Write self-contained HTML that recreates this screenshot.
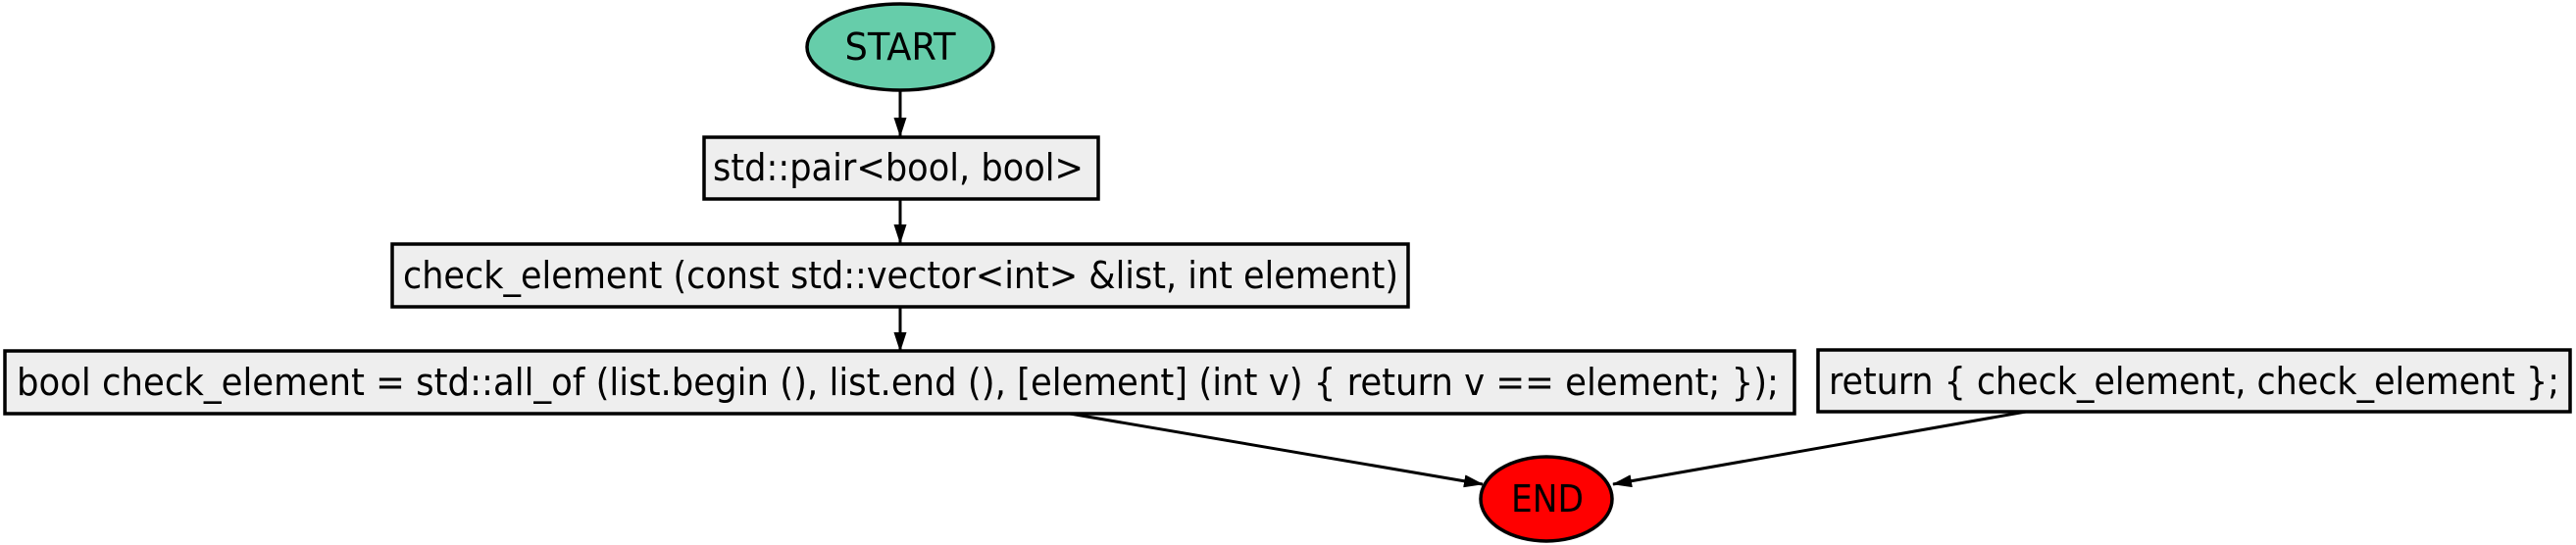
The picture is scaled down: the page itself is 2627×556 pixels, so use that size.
<!DOCTYPE html>
<html><head><style>html,body{margin:0;padding:0;background:#fff}svg{display:block}</style></head>
<body>
<svg width="2627" height="556" viewBox="0 0 2627 556" xmlns="http://www.w3.org/2000/svg">
<defs><marker id="b" markerWidth="20" markerHeight="13" refX="19" refY="6.5" orient="auto" markerUnits="userSpaceOnUse"><path d="M0,0 L20,6.5 L0,13 Z" fill="#000"/></marker></defs>
<g font-family="'DejaVu Sans Condensed','DejaVu Sans','Liberation Sans',sans-serif" font-size="38" fill="#000">
<g stroke="#000" stroke-width="3">
<line x1="918" y1="93" x2="918" y2="139" marker-end="url(#b)"/>
<line x1="918" y1="203" x2="918" y2="248" marker-end="url(#b)"/>
<line x1="918" y1="313" x2="918" y2="358" marker-end="url(#b)"/>
<line x1="1091" y1="422" x2="1512" y2="494" marker-end="url(#b)"/>
<line x1="2066" y1="420" x2="1645" y2="494" marker-end="url(#b)"/>
</g>
<ellipse cx="918" cy="48" rx="95" ry="44" fill="#66cdaa" stroke="#000" stroke-width="3.5"/>
<text x="918" y="61" text-anchor="middle" textLength="113" lengthAdjust="spacingAndGlyphs">START</text>
<rect x="718" y="140" width="402" height="63" fill="#eeeeee" stroke="#000" stroke-width="3.5"/>
<text x="727" y="184" textLength="378" lengthAdjust="spacingAndGlyphs">std::pair&lt;bool, bool&gt;</text>
<rect x="400" y="249" width="1036" height="64" fill="#eeeeee" stroke="#000" stroke-width="3.5"/>
<text x="411" y="294" textLength="1015" lengthAdjust="spacingAndGlyphs">check_element (const std::vector&lt;int&gt; &amp;list, int element)</text>
<rect x="5" y="358" width="1825" height="64" fill="#eeeeee" stroke="#000" stroke-width="3.5"/>
<text x="17" y="403" textLength="1797" lengthAdjust="spacingAndGlyphs">bool check_element = std::all_of (list.begin (), list.end (), [element] (int v) { return v == element; });</text>
<rect x="1854" y="357" width="767" height="63" fill="#eeeeee" stroke="#000" stroke-width="3.5"/>
<text x="1865" y="402" textLength="745" lengthAdjust="spacingAndGlyphs">return { check_element, check_element };</text>
<ellipse cx="1577" cy="509" rx="67" ry="43" fill="#ff0000" stroke="#000" stroke-width="3.5"/>
<text x="1578" y="522" text-anchor="middle" textLength="74" lengthAdjust="spacingAndGlyphs">END</text>
</g>
</svg>
</body></html>
